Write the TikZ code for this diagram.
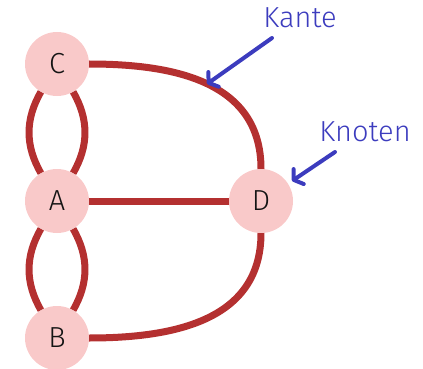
\documentclass[tikz,border=0pt]{standalone}
\usepackage{fontspec}
\setmainfont{Fira Sans Light}
\usetikzlibrary{arrows.meta}
\definecolor{nodefill}{RGB}{249,201,201}
\definecolor{edgecol}{RGB}{180,48,48}
\definecolor{annot}{RGB}{60,60,190}
\definecolor{textcol}{RGB}{20,20,20}
\begin{document}
\begin{tikzpicture}[x=1pt,y=-1pt,
  vertex/.style={circle,fill=nodefill,minimum size=64pt,inner sep=0pt,font=\fontsize{29}{33}\selectfont,text=textcol},
  edge/.style={draw=edgecol,line width=7pt},
  label/.style={font=\fontsize{29}{34}\selectfont,text=annot},
  pointer/.style={draw=annot,line width=4pt,line cap=round,-{Straight Barb[length=6pt,width=18pt,line cap=round,line join=round]}}]
\useasboundingbox (0,0) rectangle (423,369);
\node[vertex] (C) at (57,64) {C};
\node[vertex] (A) at (57,201) {A};
\node[vertex] (B) at (57,338) {B};
\node[vertex] (D) at (261,201) {D};
\draw[edge] (C) to[bend right=30] (A);
\draw[edge] (C) to[bend left=30] (A);
\draw[edge] (A) to[bend right=30] (B);
\draw[edge] (A) to[bend left=30] (B);
\draw[edge] (A) -- (D);
\draw[edge] (C.east) to[out=0,in=90,looseness=1.1] (D.north);
\draw[edge] (B.east) to[out=0,in=-90,looseness=1.1] (D.south);
\node[label] (kante) at (300,18) {Kante};
\node[label] (knoten) at (365,132) {Knoten};
\coordinate (kt) at (272,38);
\coordinate (kh) at (207,84);
\coordinate (nt) at (335,152);
\coordinate (nh) at (292,181);
\draw[pointer] (kt) -- (kh);
\draw[pointer] (nt) -- (nh);
\end{tikzpicture}
\end{document}
